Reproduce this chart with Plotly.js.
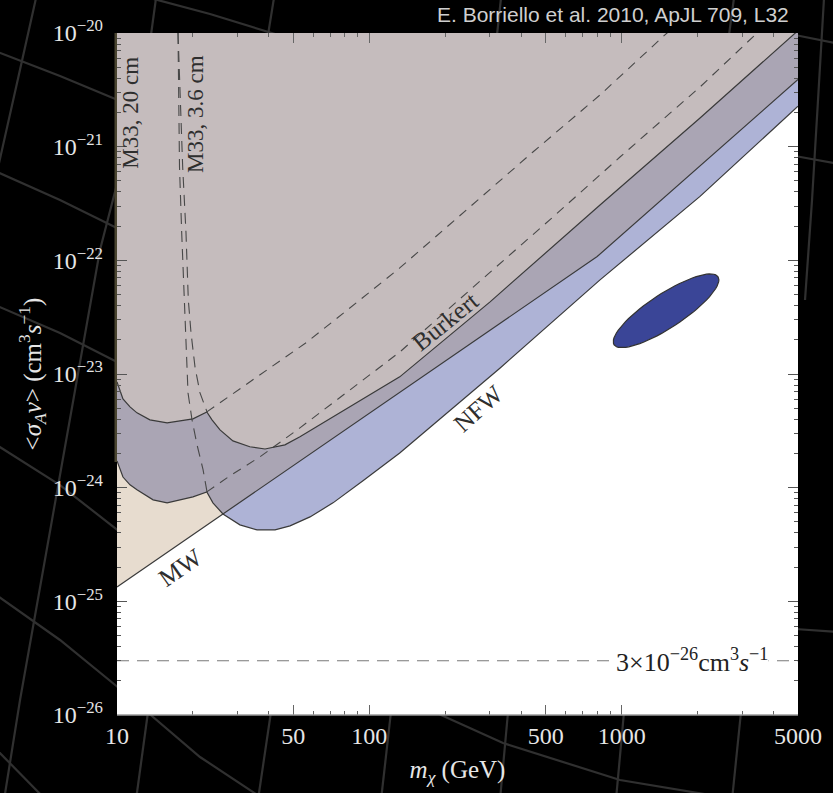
<!DOCTYPE html>
<html>
<head>
<meta charset="utf-8">
<script src="https://cdn.plot.ly/plotly-3.0.1.min.js"></script>
<style>
  html, body { margin: 0; padding: 0; background: #000; }
  #chart { width: 833px; height: 793px; }
</style>
</head>
<body>
<div id="chart"></div>
<script>
// Annihilation cross-section limits <sigma_A v> (cm^3 s^-1) versus WIMP mass (GeV)

// Milky Way limit
const mwMass  = [10, 800, 5000];
const mwSigma = [1.34e-25, 1.08e-22, 3.9e-21];

// M33 limit, NFW profile (20 cm up to the cusp, 3.6 cm beyond it)
const nfwMass  = [10, 10.56, 11.26, 12.0, 13.9, 15.8, 20.0, 22.7, 24.0, 26.3, 30.7, 35.9, 42.3, 48.5, 58.2, 71.8, 94.4, 132, 330, 821, 2045, 5000];
const nfwSigma = [1.72e-24, 1.24e-24, 1.06e-24, 9.57e-25, 7.81e-25, 7.35e-25, 8.30e-25, 9.18e-25, 7.35e-25, 5.87e-25, 4.71e-25, 4.25e-25, 4.25e-25, 4.61e-25, 5.53e-25, 7.35e-25, 1.15e-24, 2.02e-24, 1.13e-23, 6.73e-23, 3.65e-22, 2.27e-21];

// M33 limit, Burkert profile
const burMass  = [10, 10.56, 11.26, 12.0, 13.5, 15.8, 20.0, 22.7, 23.8, 25.6, 28.8, 33.6, 38.6, 46.3, 53.1, 71.8, 132, 301, 821, 2045, 5000];
const burSigma = [8.53e-24, 6.04e-24, 5.14e-24, 4.55e-24, 3.95e-24, 3.72e-24, 4.03e-24, 4.64e-24, 3.95e-24, 3.22e-24, 2.58e-24, 2.29e-24, 2.19e-24, 2.38e-24, 2.80e-24, 4.20e-24, 9.44e-24, 4.31e-23, 3.07e-22, 1.79e-21, 1.05e-20];

// 20 cm curves continued past the cusp
const bur20Mass  = [22.7, 28.0, 36.9, 56.6, 91.9, 132, 445, 821, 1513, 1600];
const bur20Sigma = [4.64e-24, 6.41e-24, 9.82e-24, 1.91e-23, 4.49e-23, 8.57e-23, 8.97e-22, 2.85e-21, 1.0e-20, 1.12e-20];
const nfw20Mass  = [22.7, 28.0, 36.9, 53.1, 83.8, 132, 293, 535, 985, 2045, 3441, 3700];
const nfw20Sigma = [9.18e-25, 1.27e-24, 1.87e-24, 3.36e-24, 7.24e-24, 1.56e-23, 7.45e-23, 2.41e-22, 8.11e-22, 3.35e-21, 1.0e-20, 1.15e-20];

// 3.6 cm curves below their cusp
const bur36Mass  = [17.45, 17.77, 18.21, 18.77, 19.17, 19.65, 20.38, 21.33, 22.74];
const bur36Sigma = [1.0e-20, 2.58e-21, 6.62e-22, 1.74e-22, 4.49e-23, 2.30e-23, 1.15e-23, 6.82e-24, 4.64e-24];
const nfw36Mass  = [17.45, 17.61, 17.69, 18.05, 18.48, 18.77, 19.12, 19.83, 20.76, 21.93, 22.74];
const nfw36Sigma = [1.0e-20, 2.58e-21, 6.62e-22, 1.74e-22, 4.49e-23, 1.99e-23, 6.82e-24, 3.95e-24, 2.38e-24, 1.44e-24, 9.18e-25];

// Thermal relic cross-section
const thermalSigma = 3e-26;

// Favoured region: centre, and semi-axes in decades of (log m, log sigma)
const blobMass = 1500;
const blobSigma = 3.6e-23;
const blobMajor = [0.206, 0.299];
const blobMinor = [0.037, -0.126];

// Axis ticks
const xTickVals = [10, 50, 100, 500, 1000, 5000];
const xTickText = ['10', '50', '100', '500', '1000', '5000'];
const xMinorVals = [20, 30, 40, 60, 70, 80, 90, 200, 300, 400, 600, 700, 800, 900, 2000, 3000, 4000];
const yExponents = [-26, -25, -24, -23, -22, -21, -20];

// ---------- helpers ----------
const L = Math.log10;
function interpLog(ms, ss, m) {
  const lm = L(m);
  for (let i = 0; i < ms.length - 1; i++) {
    const a = L(ms[i]), b = L(ms[i + 1]);
    if (lm >= a && lm <= b) {
      const t = b === a ? 0 : (lm - a) / (b - a);
      return Math.pow(10, L(ss[i]) * (1 - t) + L(ss[i + 1]) * t);
    }
  }
  return NaN;
}
function upperEnvelope(m1, s1, m2, s2) {
  const grid = Array.from(new Set([...m1, ...m2])).sort((a, b) => a - b);
  const out = { x: [], y: [] };
  let prev = null;
  grid.forEach(m => {
    const v1 = interpLog(m1, s1, m), v2 = interpLog(m2, s2, m);
    const d = L(v1) - L(v2);
    if (prev && prev.d * d < 0) {
      const t = prev.d / (prev.d - d);
      const mc = Math.pow(10, L(prev.m) * (1 - t) + L(m) * t);
      out.x.push(mc); out.y.push(interpLog(m1, s1, mc));
    }
    out.x.push(m); out.y.push(Math.max(v1, v2));
    prev = { m, d };
  });
  return out;
}
const TOP = 1e-19;
function regionAbove(xs, ys, color) {
  return {
    x: [...xs, xs[xs.length - 1], xs[0]],
    y: [...ys, TOP, TOP],
    mode: 'lines', fill: 'toself', fillcolor: color,
    line: { width: 0 }, hoverinfo: 'skip', showlegend: false
  };
}
function curve(xs, ys, color, dash, width) {
  return {
    x: xs, y: ys, mode: 'lines',
    line: { color: color, width: width || 1.2, dash: dash || 'solid' },
    hoverinfo: 'skip', showlegend: false
  };
}

// Favoured region outline
const blobX = [], blobY = [];
for (let i = 0; i <= 72; i++) {
  const t = 2 * Math.PI * i / 72;
  blobX.push(Math.pow(10, L(blobMass) + blobMajor[0] * Math.cos(t) + blobMinor[0] * Math.sin(t)));
  blobY.push(Math.pow(10, L(blobSigma) + blobMajor[1] * Math.cos(t) + blobMinor[1] * Math.sin(t)));
}

const both = upperEnvelope(nfwMass, nfwSigma, mwMass, mwSigma);

const lineCol = '#3a3a3a';
const dashCol = '#484848';

const traces = [
  regionAbove(mwMass, mwSigma, '#e7dccf'),
  regionAbove(nfwMass, nfwSigma, '#aeb3d6'),
  regionAbove(both.x, both.y, '#aaa5b4'),
  regionAbove(burMass, burSigma, '#c5bcbd'),
  {
    x: blobX, y: blobY, mode: 'lines', fill: 'toself', fillcolor: '#3a4597',
    line: { color: '#333', width: 1.2 }, hoverinfo: 'skip', showlegend: false
  },
  curve(bur20Mass, bur20Sigma, dashCol, '9px,7px', 1.1),
  curve(nfw20Mass, nfw20Sigma, dashCol, '9px,7px', 1.1),
  curve(bur36Mass, bur36Sigma, dashCol, '11px,7px', 1.1),
  curve(nfw36Mass, nfw36Sigma, dashCol, '11px,7px', 1.1),
  curve(mwMass, mwSigma, lineCol),
  curve(nfwMass, nfwSigma, lineCol),
  curve(burMass, burSigma, lineCol),
  curve([10, 5000], [thermalSigma, thermalSigma], '#7a7a7a', '12px,8px', 1.2)
];

// ---------- page geometry ----------
const W = 833, H = 793;
const M = { l: 117, r: 35, t: 33, b: 78 };
const PW = W - M.l - M.r, PH = H - M.t - M.b;
const px = x => (x - M.l) / PW;
const py = y => (H - M.b - y) / PH;

// Faint sky coordinate grid behind the figure (pixel polylines)
const skyGrid = [
  [[36, -2], [17, 83], [-3, 172]],
  [[-5, 51], [60, 76], [125, 103]],
  [[-5, 171], [60, 200], [125, 232]],
  [[-5, 305], [60, 333], [125, 366]],
  [[-5, 444], [60, 485], [125, 536]],
  [[-5, 594], [60, 640], [125, 693], [200, 757], [265, 800]],
  [[-5, 748], [46, 800]],
  [[118, 180], [100, 250], [60, 475], [20, 700], [4, 800]],
  [[150, -2], [210, 14], [275, 34]],
  [[156, -2], [151, 35]],
  [[274, -2], [268, 35]],
  [[501, -2], [497, 35]],
  [[734, -2], [729, 35]],
  [[824, -2], [818, 100], [812, 200], [805, 300]],
  [[795, 35], [840, 44]],
  [[795, 156], [840, 164]],
  [[795, 629], [840, 632]],
  [[148, 712], [136, 800]],
  [[271, 712], [258, 800]],
  [[391, 712], [381, 800]],
  [[508, 712], [500, 800]],
  [[624, 712], [616, 800]],
  [[741, 712], [732, 800]],
  [[430, 710], [503, 743], [620, 780], [740, 800]]
];

const shapes = skyGrid.map(pts => ({
  type: 'path', xref: 'paper', yref: 'paper', layer: 'below',
  path: pts.map((p, i) => (i ? 'L' : 'M') + px(p[0]).toFixed(4) + ',' + py(p[1]).toFixed(4)).join(' '),
  line: { color: '#303030', width: 2.2 }
}));
// plot area
shapes.push({ type: 'rect', xref: 'paper', yref: 'paper', layer: 'below',
  x0: 0, x1: 1, y0: 0, y1: 1, fillcolor: '#ffffff', line: { width: 0 } });
// darker rim along the upper left edge
shapes.push({ type: 'rect', xref: 'paper', yref: 'paper', layer: 'below',
  x0: px(114.5), x1: px(117), y0: py(462), y1: 1, fillcolor: '#4a4530', line: { width: 0 } });
// bottom frame line
shapes.push({ type: 'line', xref: 'paper', yref: 'paper', layer: 'above',
  x0: 0, x1: 1, y0: 0, y1: 0, line: { color: '#9a9a9a', width: 1.5 } });

const serif = 'Liberation Serif, Times New Roman, serif';
const inkFont = { family: serif, size: 25, color: '#2e2e2e' };
const m33Font = { family: serif, size: 23, color: '#2e2e2e' };

const annotations = [
  { xref: 'paper', yref: 'paper', x: px(791), y: py(14), xanchor: 'right', yanchor: 'middle',
    text: 'E. Borriello et al. 2010, ApJL 709, L32', showarrow: false,
    font: { family: 'Liberation Sans, Arial, sans-serif', size: 21, color: '#cfcfcf' } },
  { x: L(11.27), y: -20.70, text: 'M33, 20 cm', textangle: -90, showarrow: false, font: m33Font },
  { x: L(20.6), y: -20.71, text: 'M33, 3.6 cm', textangle: -90, showarrow: false, font: m33Font },
  { x: L(200), y: -22.54, text: 'Burkert', textangle: -39, showarrow: false, font: inkFont },
  { x: L(270), y: -23.30, text: 'NFW', textangle: -42, showarrow: false, font: inkFont },
  { x: L(17.8), y: -24.70, text: 'MW', textangle: -35, showarrow: false, font: inkFont },
  { x: L(1900), y: L(thermalSigma), text: '3×10<sup>−26</sup>cm<sup>3</sup><i>s</i><sup>−1</sup>',
    showarrow: false, bgcolor: '#ffffff', borderpad: 0,
    font: { family: serif, size: 26, color: '#222' } }
];

const tickFont = { family: serif, size: 24, color: '#e6e6e6' };
const yMinor = [];
yExponents.slice(0, -1).forEach(e => { for (let k = 2; k <= 9; k++) yMinor.push(k * Math.pow(10, e)); });

const layout = {
  width: W, height: H,
  margin: M,
  paper_bgcolor: '#000000',
  plot_bgcolor: 'rgba(0,0,0,0)',
  showlegend: false,
  xaxis: {
    type: 'log', range: [1, L(5000)],
    tickvals: xTickVals, ticktext: xTickText,
    ticks: 'inside', ticklen: 10, tickwidth: 1, tickcolor: '#666',
    mirror: 'ticks', showline: false, showgrid: false, zeroline: false,
    tickfont: tickFont, ticklabelstandoff: 4,
    minor: { ticks: 'inside', ticklen: 4, tickwidth: 1, tickcolor: '#666', tickvals: xMinorVals, showgrid: false },
    title: { text: '<i>m</i><sub><i>χ</i></sub> (GeV)', font: { family: serif, size: 25, color: '#e6e6e6' }, standoff: 12 }
  },
  yaxis: {
    type: 'log', range: [-26, -20],
    tickvals: yExponents.map(e => Math.pow(10, e)),
    ticktext: yExponents.map(e => '10<sup>−' + Math.abs(e) + '</sup>'),
    ticks: 'inside', ticklen: 10, tickwidth: 1, tickcolor: '#555',
    mirror: 'ticks', showline: false, showgrid: false, zeroline: false,
    tickfont: tickFont, ticklabelstandoff: 13,
    minor: { ticks: 'inside', ticklen: 4, tickwidth: 1, tickcolor: '#555', tickvals: yMinor, showgrid: false },
    title: { text: '&lt;<i>σ<sub>A</sub>v</i>&gt; (cm<sup>3</sup><i>s</i><sup>−1</sup>)', font: { family: serif, size: 25, color: '#e6e6e6' }, standoff: 4 }
  },
  shapes: shapes,
  annotations: annotations
};

Plotly.newPlot('chart', traces, layout, { staticPlot: true, displayModeBar: false });
</script>
</body>
</html>
